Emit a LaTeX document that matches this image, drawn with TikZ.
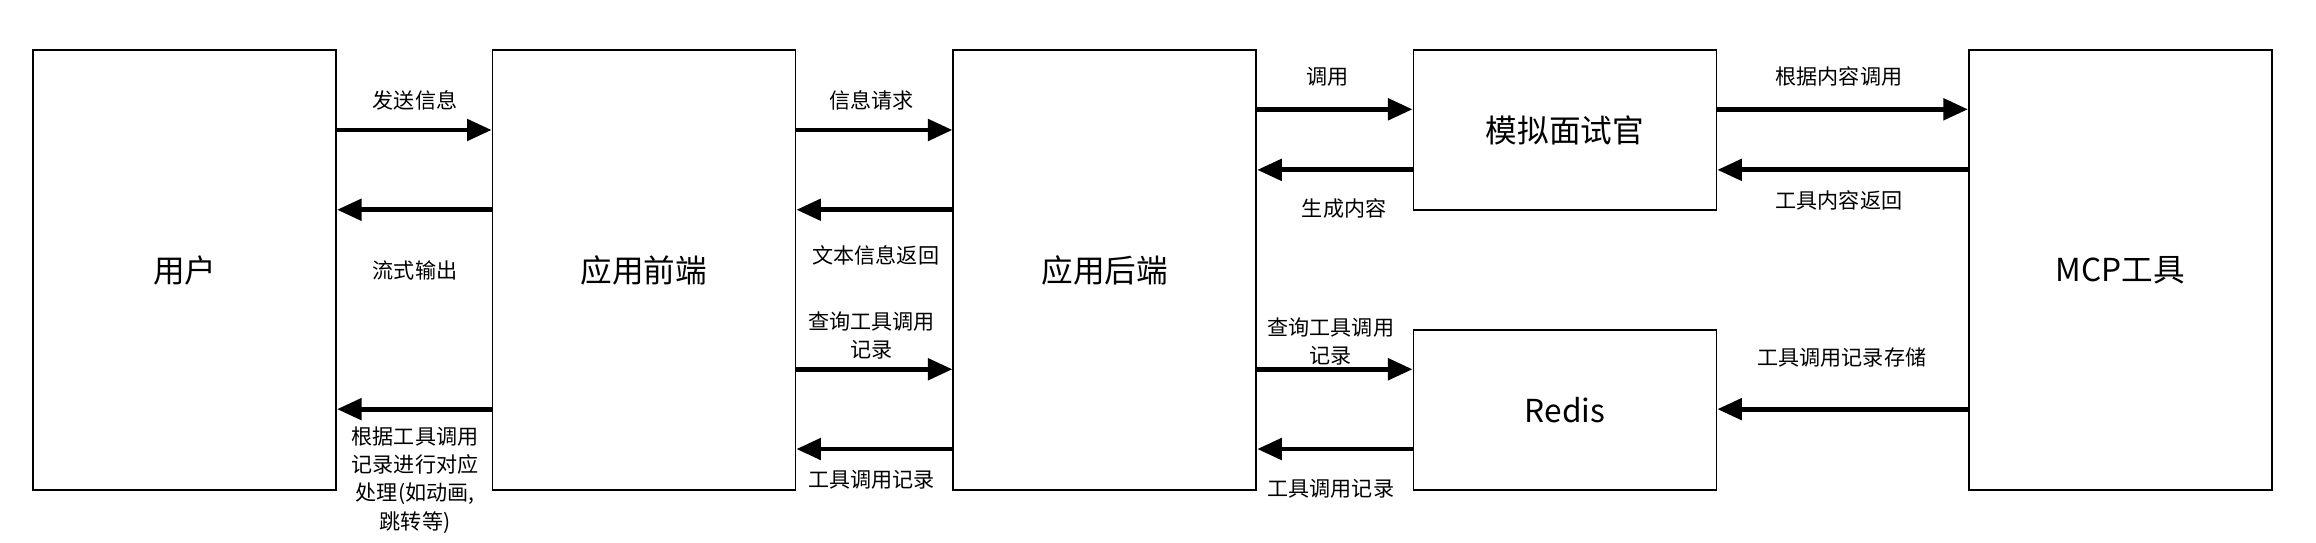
\documentclass[tikz,border=0pt]{standalone}
\usepackage{fontspec}
\setmainfont{Noto Sans CJK SC}
\usetikzlibrary{arrows.meta}
\begin{document}
\begin{tikzpicture}[x=0.01477cm,y=-0.01477cm,
 box/.style={draw,line width=0.5pt,rectangle,minimum width=3.03cm,inner sep=0pt,font=\fontsize{9}{11}\selectfont},
 tall/.style={box,minimum height=4.40cm},
 short/.style={box,minimum height=1.60cm},
 arr/.style={line width=1.4pt,-{Triangle[length=7pt,width=6pt]}},
 lbl/.style={font=\fontsize{6}{8}\selectfont,align=center,inner sep=0pt}]
\useasboundingbox (0,0) rectangle (1568,367);
\node[tall] (u) at (125,183) {用户};
\node[tall] (f) at (436,183) {应用前端};
\node[tall] (b) at (748,183) {应用后端};
\node[short] (m) at (1059.5,88) {模拟面试官};
\node[short] (r) at (1059.5,277.5) {Redis};
\node[tall] (t) at (1435.5,183) {MCP工具};
\draw[arr] (u.east |- 0,88) -- (f.west |- 0,88);
\draw[arr] (f.west |- 0,142) -- (u.east |- 0,142);
\draw[arr] (f.west |- 0,277) -- (u.east |- 0,277);
\draw[arr] (f.east |- 0,88) -- (b.west |- 0,88);
\draw[arr] (b.west |- 0,142) -- (f.east |- 0,142);
\draw[arr] (f.east |- 0,250) -- (b.west |- 0,250);
\draw[arr] (b.west |- 0,304) -- (f.east |- 0,304);
\draw[arr] (b.east |- 0,74) -- (m.west |- 0,74);
\draw[arr] (m.west |- 0,115) -- (b.east |- 0,115);
\draw[arr] (b.east |- 0,250) -- (r.west |- 0,250);
\draw[arr] (r.west |- 0,304) -- (b.east |- 0,304);
\draw[arr] (m.east |- 0,74) -- (t.west |- 0,74);
\draw[arr] (t.west |- 0,115) -- (m.east |- 0,115);
\draw[arr] (t.west |- 0,277) -- (r.east |- 0,277);
\node[lbl] (l1) at (281,68) {发送信息};
\node[lbl] (l2) at (281,183) {流式输出};
\node[lbl] (l3) at (281,325) {根据工具调用\\记录进行对应\\处理(如动画,\\跳转等)};
\node[lbl] (l4) at (590,68) {信息请求};
\node[lbl] (l5) at (593,173) {文本信息返回};
\node[lbl] (l6) at (590,227) {查询工具调用\\记录};
\node[lbl] (l7) at (590,325) {工具调用记录};
\node[lbl] (l8) at (899,52) {调用};
\node[lbl] (l9) at (910,141) {生成内容};
\node[lbl] (l10) at (901,231) {查询工具调用\\记录};
\node[lbl] (l11) at (901,331) {工具调用记录};
\node[lbl] (l12) at (1245,52) {根据内容调用};
\node[lbl] (l13) at (1245,136) {工具内容返回};
\node[lbl] (l14) at (1247,242) {工具调用记录存储};
\end{tikzpicture}
\end{document}
